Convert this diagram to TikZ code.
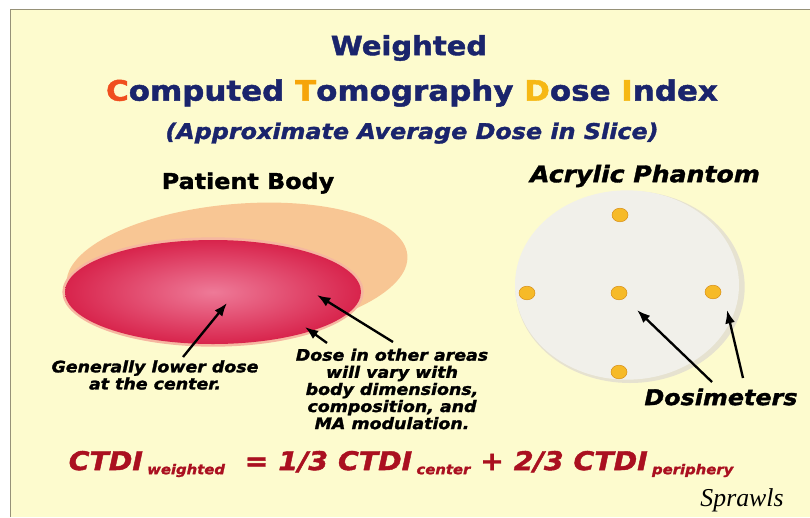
\documentclass[tikz,border=0pt]{standalone}
\usepackage{fontspec}
\setmainfont{DejaVu Sans}
\newfontfamily\blackfont{DejaVu Sans}[FakeStretch=1.1,UprightFont={* Bold},ItalicFont={* Bold Oblique},FakeBold=1.6]
\newfontfamily\signfont{Liberation Serif}
\usetikzlibrary{arrows,arrows.meta,positioning,shapes}
\definecolor{paper}{RGB}{253,251,206}
\definecolor{rimgray}{RGB}{150,145,120}
\definecolor{navy}{RGB}{26,36,108}
\definecolor{initred}{RGB}{240,78,30}
\definecolor{initorange}{RGB}{246,165,10}
\definecolor{initgold}{RGB}{246,184,20}
\definecolor{peach}{RGB}{248,198,148}
\definecolor{halo}{RGB}{246,182,160}
\definecolor{pinklight}{RGB}{238,122,152}
\definecolor{pinkdeep}{RGB}{216,36,76}
\definecolor{phantomface}{RGB}{241,240,234}
\definecolor{phantomshade}{RGB}{230,226,208}
\definecolor{dotfill}{RGB}{246,186,40}
\definecolor{dotedge}{RGB}{214,140,20}
\definecolor{formulared}{RGB}{170,16,32}
\newcommand\lowsub[1]{\raisebox{-3.5pt}{\fontsize{11.5}{12}\selectfont #1}}

\begin{document}
\begin{tikzpicture}[x=0.3mm,y=-0.3mm,% one unit is one pixel, y runs downwards
					every node/.style={
						align=center,		% so that "\\" breaks the line
						inner sep=0pt
						},
					every edge/.style={draw,line width=2pt},
					heading/.style={font=\blackfont\fontsize{18.5}{20}\selectfont},
					note/.style={font=\blackfont\itshape\fontsize{13.5}{14.6}\selectfont},
					dosimeter/.style={ellipse,draw=dotedge,fill=dotfill,thin,minimum width=4.8mm,minimum height=4.1mm}
					]
\useasboundingbox (0,0) rectangle (810,517);
\fill[white] (0,0) rectangle (810,517);
\fill[paper] (10,9) rectangle (810,517);
\draw[rimgray,line width=0.8pt] (10,517) -- (10,9) -- (810,9);

% titles
\node[font=\blackfont\fontsize{22.5}{24}\selectfont,text=navy](weighted) at (409,48){Weighted};
\node[font=\blackfont\fontsize{24}{26}\selectfont,text=navy](title) at (412,93){{\color{initred}C}omputed {\color{initorange}T}omography {\color{initgold}D}ose {\color{initgold}I}ndex};
\node[font=\blackfont\itshape\fontsize{18.5}{20}\selectfont,text=navy](subtitle)[below=4.6mm of title]{(Approximate Average Dose in Slice)};

% patient body: skin outline behind, dose map in front
\fill[peach,rotate around={5:(237,270)}] (237,270) ellipse [x radius=51.3mm,y radius=19.8mm];
\fill[halo] (213,292) ellipse [x radius=45.2mm,y radius=16.4mm];
\shade[inner color=pinklight,outer color=pinkdeep] (213,292) ellipse [x radius=44.4mm,y radius=15.6mm];
\node[heading](body) at (248,183){Patient Body};

% acrylic phantom with its five dosimeter holes
\fill[phantomshade] (630,287) ellipse [x radius=34.4mm,y radius=28.8mm];
\fill[phantomface] (627,285) ellipse [x radius=33.6mm,y radius=28.4mm];
\node[heading,font=\blackfont\itshape\fontsize{19.5}{21}\selectfont](phantom) at (645,176){Acrylic Phantom};
\node[dosimeter](dtop) at (620,215){};
\node[dosimeter](dleft) at (527,293){};
\node[dosimeter](dcenter) at (619,293){};
\node[dosimeter](dright) at (713,292){};
\node[dosimeter](dbottom) at (619,372){};

% labels
\node[note](lowdose) at (155,375){Generally lower dose\\at the center.};
\node[note](otherdose) at (392,389){Dose in other areas\\will vary with\\body dimensions,\\composition, and\\MA modulation.};
\node[font=\blackfont\itshape\fontsize{18.5}{20}\selectfont](dosim) at (721,397){Dosimeters};

\coordinate (lowtail) at (183,357);
\coordinate (lowtip) at (227,303);
\coordinate (rimtail) at (327,343);
\coordinate (rimtip) at (305,327);
\coordinate (sidetail) at (393,342);
\coordinate (sidetip) at (317,295);
\coordinate (dostail1) at (712,382);
\coordinate (dostip1) at (637,310);
\coordinate (dostail2) at (743,378);
\coordinate (dostip2) at (727,310);
\path[-{Latex[length=4mm,width=3mm]}]
(lowtail)edge [] (lowtip)
(rimtail)edge [] (rimtip)
(sidetail)edge [] (sidetip)
(dostail1)edge [] (dostip1)
(dostail2)edge [] (dostip2)
;

% weighted CTDI
\node[font=\blackfont\itshape\fontsize{22}{24}\selectfont,text=formulared](ctdi) at (401,464){CTDI\,\lowsub{weighted}\ \ = 1/3 CTDI\,\lowsub{center}\ + 2/3 CTDI\,\lowsub{periphery}};
\node[font=\signfont\itshape\fontsize{22}{24}\selectfont](sign) at (742,500){Sprawls};
\end{tikzpicture}
\end{document}
